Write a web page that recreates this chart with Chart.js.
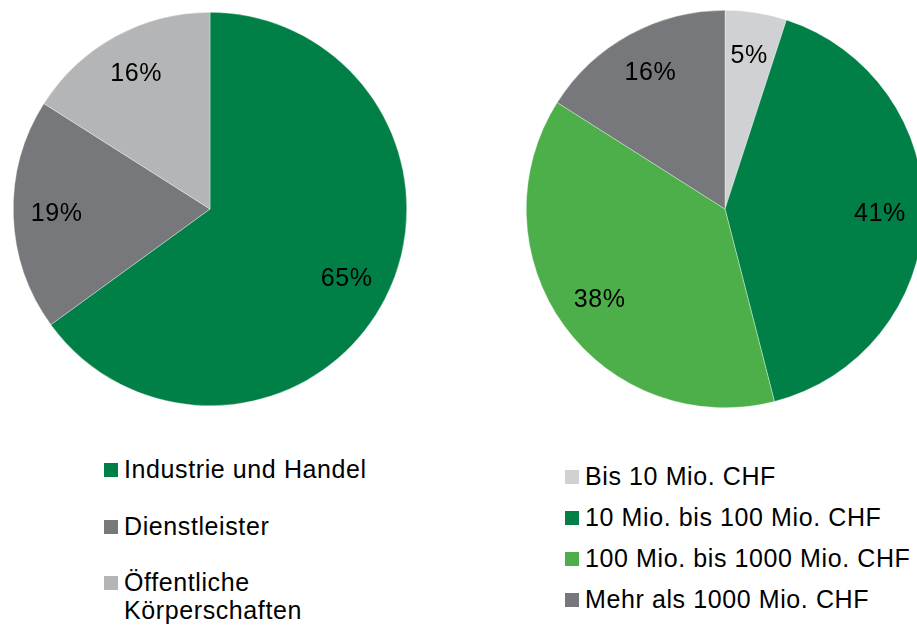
<!DOCTYPE html>
<html>
<head>
<meta charset="utf-8">
<script src="https://cdn.jsdelivr.net/npm/chart.js@4/dist/chart.umd.min.js"></script>
<style>
  html, body { margin: 0; padding: 0; width: 917px; height: 625px; overflow: hidden; background: #fff; }
  body { position: relative; font-family: 'Liberation Sans', Arial, sans-serif; }
  canvas { position: absolute; }
  .item { position: absolute; font-size: 25px; line-height: 28px; letter-spacing: 0.6px; color: #000; white-space: nowrap; }
  .item span { position: absolute; width: 14px; height: 14px; top: 8px; }
</style>
</head>
<body>
<canvas id="pieLeft" width="400" height="400" style="left:10px;top:9px"></canvas>
<canvas id="pieRight" width="404" height="404" style="left:523px;top:7px"></canvas>
<div id="legendLeft"></div>
<div id="legendRight"></div>
<script>
// Branchen (left pie)
const sectorLabels = ['Industrie und Handel', 'Dienstleister', 'Öffentliche\nKörperschaften'];
const sectorValues = [65, 19, 16];
const sectorColors = ['#007f46', '#77787b', '#b4b5b7'];

// Umsatzgrösse (right pie)
const sizeLabels = ['Bis 10 Mio. CHF', '10 Mio. bis 100 Mio. CHF', '100 Mio. bis 1000 Mio. CHF', 'Mehr als 1000 Mio. CHF'];
const sizeValues = [5, 41, 38, 16];
const sizeColors = ['#d0d1d2', '#007f46', '#4caf4a', '#77787b'];

// draws "xx%" inside each slice
const pctLabels = {
  id: 'pctLabels',
  afterDatasetsDraw(chart) {
    let ctx = chart.ctx;
    let meta = chart.getDatasetMeta(0);
    ctx.save();
    ctx.font = '25px "Liberation Sans", Arial, sans-serif';
    ctx.letterSpacing = '0.6px';
    ctx.fillStyle = '#000';
    ctx.textAlign = 'center';
    ctx.textBaseline = 'middle';
    meta.data.forEach((arc, i) => {
      let p = arc.getProps(['x', 'y', 'startAngle', 'endAngle', 'outerRadius'], true);
      let mid = (p.startAngle + p.endAngle) / 2;
      let r = p.outerRadius * 0.78;
      ctx.fillText(chart.data.datasets[0].data[i] + '%', p.x + Math.cos(mid) * r, p.y + Math.sin(mid) * r);
    });
    ctx.restore();
  }
};

function makePie(id, labels, values, colors) {
  return new Chart(document.getElementById(id), {
    type: 'pie',
    data: {
      labels: labels,
      datasets: [{
        data: values,
        backgroundColor: colors,
        borderColor: 'rgba(255,255,255,0.7)',
        borderWidth: 0.5
      }]
    },
    options: {
      responsive: false,
      animation: false,
      layout: { padding: 3 },
      plugins: { legend: { display: false }, tooltip: { enabled: false } }
    },
    plugins: [pctLabels]
  });
}

makePie('pieLeft', sectorLabels, sectorValues, sectorColors);
makePie('pieRight', sizeLabels, sizeValues, sizeColors);

// HTML legends
function makeLegend(id, labels, colors, x, top, gap) {
  let box = document.getElementById(id);
  labels.forEach((lab, i) => {
    let div = document.createElement('div');
    div.className = 'item';
    div.style.left = (x + 20) + 'px';
    div.style.top = (top + i * gap) + 'px';
    div.innerHTML = '<span style="left:-20px;background:' + colors[i] + '"></span>' + lab.replace('\n', '<br>');
    box.appendChild(div);
  });
}
makeLegend('legendLeft', sectorLabels, sectorColors, 104, 455, 56.5);
makeLegend('legendRight', sizeLabels, sizeColors, 565, 462, 41);
</script>
</body>
</html>
